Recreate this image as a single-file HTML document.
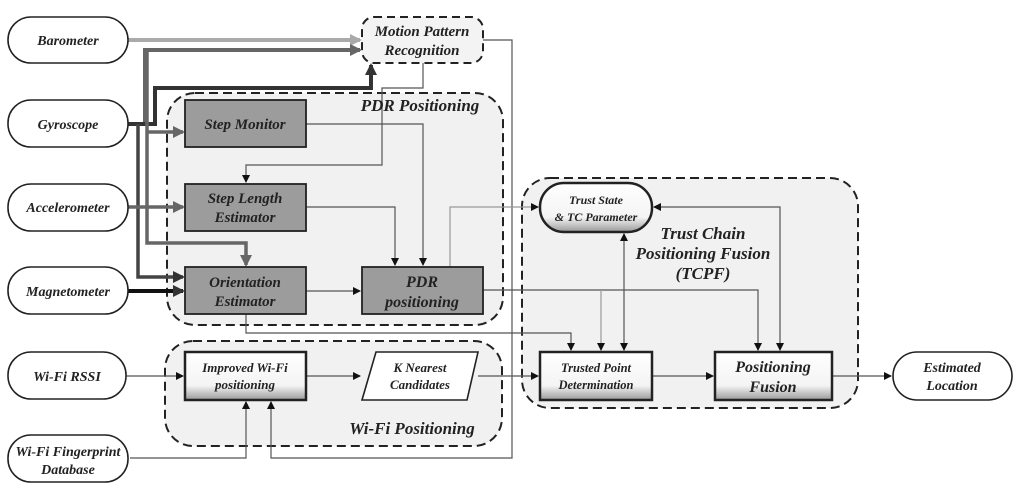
<!DOCTYPE html>
<html><head><meta charset="utf-8"><style>
html,body{margin:0;padding:0;background:#fff;}
text{font-family:"Liberation Serif",serif;font-style:italic;font-weight:bold;fill:#222;text-anchor:middle;}
</style></head><body>
<svg width="1024" height="491" viewBox="0 0 1024 491" xmlns="http://www.w3.org/2000/svg">
<defs>
<marker id="ab" markerWidth="8" markerHeight="8" refX="7" refY="4" orient="auto" markerUnits="userSpaceOnUse"><path d="M0,0 L8,4 L0,8z" fill="#111"/></marker>
<marker id="abs" markerWidth="8" markerHeight="8" refX="1" refY="4" orient="auto" markerUnits="userSpaceOnUse"><path d="M8,0 L0,4 L8,8z" fill="#111"/></marker>
<marker id="ag" markerWidth="12" markerHeight="12" refX="10" refY="6" orient="auto" markerUnits="userSpaceOnUse"><path d="M0,0 L12,6 L0,12z" fill="#666"/></marker>
<marker id="agl" markerWidth="12" markerHeight="12" refX="10" refY="6" orient="auto" markerUnits="userSpaceOnUse"><path d="M0,0 L12,6 L0,12z" fill="#aaa"/></marker>
<marker id="ad" markerWidth="12" markerHeight="12" refX="10" refY="6" orient="auto" markerUnits="userSpaceOnUse"><path d="M0,0 L12,6 L0,12z" fill="#333"/></marker>
<linearGradient id="bev" x1="0" y1="0" x2="0" y2="1"><stop offset="0" stop-color="#fff"/><stop offset="0.7" stop-color="#f4f4f4"/><stop offset="1" stop-color="#999"/></linearGradient>
</defs>
<!-- groups -->
<rect x="167" y="93" width="336" height="232" rx="28" fill="#f1f1f1" stroke="#222" stroke-width="2" stroke-dasharray="9,5"/>
<rect x="165" y="341" width="337" height="105" rx="28" fill="#f1f1f1" stroke="#222" stroke-width="2" stroke-dasharray="9,5"/>
<rect x="522" y="178" width="336" height="230" rx="28" fill="#f1f1f1" stroke="#222" stroke-width="2" stroke-dasharray="9,5"/>
<rect x="362" y="17" width="121" height="46" rx="12" fill="#f3f3f3" stroke="#222" stroke-width="2" stroke-dasharray="8,5"/>

<!-- connectors -->
<g fill="none">
<path d="M128,40 H360" stroke="#aaa" stroke-width="4" marker-end="url(#agl)"/>
<path d="M145,124 V50 H360" stroke="#666" stroke-width="4" marker-end="url(#ag)"/>
<path d="M128,124 H155 V88 H371 V65" stroke="#333" stroke-width="4" marker-end="url(#ad)"/>
<path d="M138,124 V277 H183" stroke="#444" stroke-width="3.5" marker-end="url(#ad)"/>
<path d="M147,50 V243 H246 V265" stroke="#666" stroke-width="3.5" marker-end="url(#ag)"/>
<path d="M147,132 H183" stroke="#666" stroke-width="3.5" marker-end="url(#ag)"/>
<path d="M128,207 H183" stroke="#666" stroke-width="3.5" marker-end="url(#ag)"/>
<path d="M128,291 H183" stroke="#111" stroke-width="4" marker-end="url(#ad)"/>
<g stroke="#555" stroke-width="1.2">
<path d="M423,63 V88 H382 V165 H246 V182" marker-end="url(#ab)"/>
<path d="M306,124 H423 V265" marker-end="url(#ab)"/>
<path d="M306,207 H395 V265" marker-end="url(#ab)"/>
<path d="M306,291 H360" marker-end="url(#ab)"/>
<path d="M483,40 H512 V458 H271 V402" marker-end="url(#ab)"/>
<path d="M130,458 H246 V402" marker-end="url(#ab)"/>
<path d="M125,376 H183" marker-end="url(#ab)"/>
<path d="M306,376 H360" marker-end="url(#ab)"/>
<path d="M478,376 H538" marker-end="url(#ab)"/>
<path d="M246,314 V333 H571 V350" marker-end="url(#ab)"/>
<path d="M483,290 H758 V350" marker-end="url(#ab)"/>
<path d="M601,290 V350" stroke="#999" marker-end="url(#ab)"/>
<path d="M450,267 V207 H538" stroke="#999" marker-end="url(#ab)"/>
<path d="M624,234 V350" marker-start="url(#abs)" marker-end="url(#ab)"/>
<path d="M654,207 H780 V350" marker-start="url(#abs)" marker-end="url(#ab)"/>
<path d="M652,376 H713" marker-end="url(#ab)"/>
<path d="M832,376 H891" marker-end="url(#ab)"/>
</g>
</g>

<!-- ovals -->
<g fill="#fff" stroke="#222" stroke-width="1.6">
<rect x="8" y="17" width="120" height="46" rx="23"/>
<rect x="8" y="100" width="120" height="47" rx="23"/>
<rect x="8" y="184" width="120" height="47" rx="23"/>
<rect x="8" y="267" width="120" height="47" rx="23"/>
<rect x="8" y="352" width="118" height="47" rx="23"/>
<rect x="8" y="435" width="120" height="47" rx="23"/>
<rect x="893" y="352" width="119" height="48" rx="24"/>
</g>
<!-- gray boxes -->
<g fill="#9c9c9c" stroke="#222" stroke-width="1.8">
<rect x="185" y="100" width="121" height="47"/>
<rect x="185" y="184" width="121" height="47"/>
<rect x="185" y="267" width="121" height="47"/>
<rect x="362" y="267" width="121" height="47"/>
</g>
<!-- bevel boxes -->
<g fill="url(#bev)" stroke="#222" stroke-width="2.5">
<rect x="185" y="352" width="121" height="48"/>
<rect x="540" y="352" width="112" height="48"/>
<rect x="715" y="352" width="117" height="48"/>
<rect x="540" y="183" width="112" height="49" rx="24"/>
</g>
<path d="M376,352 H478 L467,400 H362 Z" fill="#fff" stroke="#222" stroke-width="1.6"/>

<!-- labels -->
<g font-size="14">
<text x="68" y="45">Barometer</text>
<text x="68" y="129">Gyroscope</text>
<text x="68" y="212">Accelerometer</text>
<text x="68" y="296">Magnetometer</text>
<text x="67" y="381">Wi-Fi RSSI</text>
<text x="68" y="456">Wi-Fi Fingerprint</text>
<text x="68" y="474">Database</text>
<text x="952" y="372">Estimated</text>
<text x="952" y="390">Location</text>
</g>
<g font-size="15">
<text x="422" y="36">Motion Pattern</text>
<text x="422" y="55">Recognition</text>
<text x="245" y="129">Step Monitor</text>
<text x="245" y="203">Step Length</text>
<text x="245" y="222">Estimator</text>
<text x="245" y="287">Orientation</text>
<text x="245" y="306">Estimator</text>
<text x="422" y="287" font-size="16">PDR</text>
<text x="422" y="307" font-size="16">positioning</text>
<text x="245" y="372" font-size="13">Improved Wi-Fi</text>
<text x="245" y="389" font-size="13">positioning</text>
<text x="420" y="372" font-size="13">K Nearest</text>
<text x="420" y="389" font-size="13">Candidates</text>
<text x="596" y="204" font-size="12">Trust State</text>
<text x="596" y="221" font-size="12">&amp; TC Parameter</text>
<text x="596" y="372" font-size="12.5">Trusted Point</text>
<text x="596" y="389" font-size="12.5">Determination</text>
<text x="773" y="372" font-size="16" font-weight="normal">Positioning</text>
<text x="773" y="392" font-size="16" font-weight="normal">Fusion</text>
</g>
<g font-size="17" font-weight="normal">
<text x="420" y="111">PDR Positioning</text>
<text x="412" y="434">Wi-Fi Positioning</text>
<text x="703" y="239">Trust Chain</text>
<text x="703" y="259">Positioning Fusion</text>
<text x="703" y="279">(TCPF)</text>
</g>
</svg>
</body></html>
